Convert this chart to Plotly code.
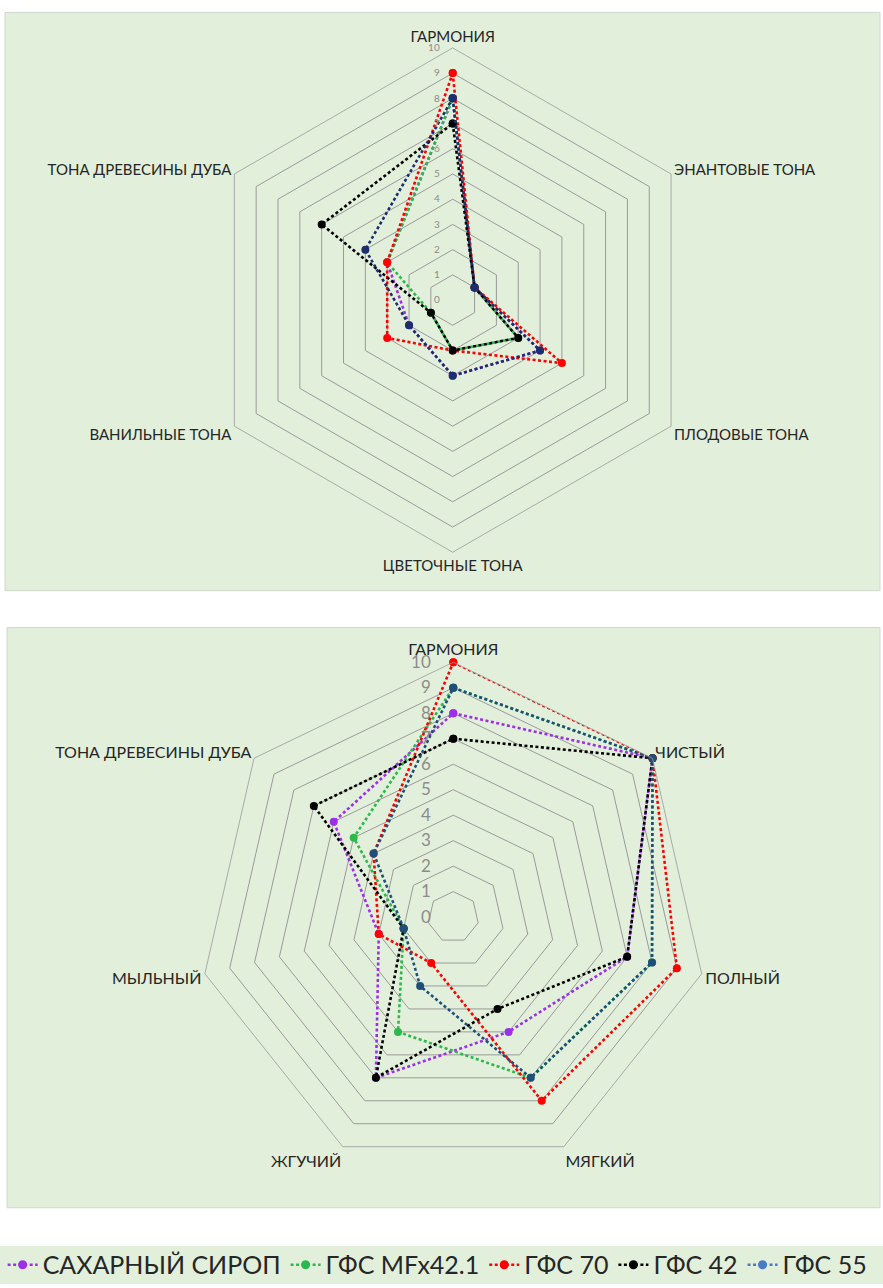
import plotly.graph_objects as go

# Aroma profile (hexagon) axes and scores
aroma_axes = ["ГАРМОНИЯ", "ЭНАНТОВЫЕ ТОНА", "ПЛОДОВЫЕ ТОНА",
              "ЦВЕТОЧНЫЕ ТОНА", "ВАНИЛЬНЫЕ ТОНА", "ТОНА ДРЕВЕСИНЫ ДУБА"]
aroma_sugar_syrup = [8, 1, 4, 3, 2, 3]
aroma_hfs_mfx421 = [8, 1, 3, 2, 1, 3]
aroma_hfs_70 = [9, 1, 5, 2, 3, 3]
aroma_hfs_42 = [7, 1, 3, 2, 1, 6]
aroma_hfs_55 = [8, 1, 4, 3, 2, 4]

# Taste profile (heptagon) axes and scores
taste_axes = ["ГАРМОНИЯ", "ЧИСТЫЙ", "ПОЛНЫЙ", "МЯГКИЙ",
              "ЖГУЧИЙ", "МЫЛЬНЫЙ", "ТОНА ДРЕВЕСИНЫ ДУБА"]
taste_sugar_syrup = [8, 10, 7, 5, 7, 3, 6]
taste_hfs_mfx421 = [9, 10, 8, 7, 5, 2, 5]
taste_hfs_70 = [10, 10, 9, 8, 2, 3, 4]
taste_hfs_42 = [7, 10, 7, 4, 7, 2, 7]
taste_hfs_55 = [9, 10, 8, 7, 3, 2, 4]

series_names = ["САХАРНЫЙ СИРОП", "ГФС MFx42.1", "ГФС 70", "ГФС 42", "ГФС 55"]
radial_ticks = list(range(0, 11))

FONT = "Lato, Open Sans, sans-serif"
PANEL = "#E2EFDA"
GRID = "#9A9A9A"

aroma_colors = ["#9B30E8", "#2DB84D", "#FF0000", "#000000", "#1C2E6E"]
taste_colors = ["#9B30E8", "#2DB84D", "#FF0000", "#000000", "#1F4E79"]
legend_colors = ["#9B30E8", "#2DB84D", "#FF0000", "#000000", "#4A7BC4"]

aroma_series = [aroma_sugar_syrup, aroma_hfs_mfx421, aroma_hfs_70, aroma_hfs_42, aroma_hfs_55]
taste_series = [taste_sugar_syrup, taste_hfs_mfx421, taste_hfs_70, taste_hfs_42, taste_hfs_55]

fig = go.Figure()


def closed(values, labels):
    return values + values[:1], labels + labels[:1]


for name, vals, col in zip(series_names, aroma_series, aroma_colors):
    r, th = closed(vals, aroma_axes)
    fig.add_trace(go.Scatterpolar(
        r=r, theta=th, subplot="polar", name=name, showlegend=False,
        mode="lines+markers",
        line=dict(color=col, width=2.6, dash="3px,2.5px"),
        marker=dict(color=col, size=8),
    ))

for name, vals, col in zip(series_names, taste_series, taste_colors):
    r, th = closed(vals, taste_axes)
    fig.add_trace(go.Scatterpolar(
        r=r, theta=th, subplot="polar2", name=name, showlegend=False,
        mode="lines+markers",
        line=dict(color=col, width=2.6, dash="3px,2.5px"),
        marker=dict(color=col, size=8),
    ))

# legend entries
for name, col in zip(series_names, legend_colors):
    fig.add_trace(go.Scatterpolar(
        r=[None], theta=[taste_axes[0]], subplot="polar2", name=name,
        mode="lines+markers",
        line=dict(color=col, width=2.6, dash="3px,2.5px"),
        marker=dict(color=col, size=9),
    ))


def polar_layout(domain_x, domain_y, tick_size, label_size, tick_pad):
    return dict(
        domain=dict(x=domain_x, y=domain_y),
        bgcolor="rgba(0,0,0,0)",
        gridshape="linear",
        radialaxis=dict(
            range=[0, 10], tickvals=radial_ticks, angle=90, tickangle=90,
            side="counterclockwise", showline=False,
            ticks="outside", ticklen=tick_pad, tickcolor="rgba(0,0,0,0)",
            gridcolor=GRID, gridwidth=0.8,
            tickfont=dict(family=FONT, size=tick_size, color="#8C8C8C"),
        ),
        angularaxis=dict(
            rotation=90, direction="clockwise", showgrid=False,
            showline=True, linecolor=GRID, linewidth=0.8, ticks="",
            tickfont=dict(family=FONT, size=label_size, color="#262626"),
        ),
    )


fig.update_layout(
    width=883, height=1288,
    margin=dict(l=0, r=0, t=0, b=0),
    paper_bgcolor="white",
    font=dict(family=FONT),
    polar=polar_layout([0.2262, 0.7992], [0.5699, 0.9627], 10, 15, 9),
    polar2=polar_layout([0.2239, 0.8028], [0.0873, 0.4842], 17, 16, 16),
    legend=dict(
        orientation="h", x=0.003, xanchor="left", y=0.0148, yanchor="middle",
        bgcolor="rgba(0,0,0,0)", font=dict(family=FONT, size=25, color="#262626"),
        itemwidth=30, tracegroupgap=0,
    ),
    shapes=[
        dict(type="rect", xref="paper", yref="paper", layer="below",
             x0=5 / 883, x1=880 / 883, y0=1 - 592.5 / 1288, y1=1 - 12.5 / 1288,
             fillcolor=PANEL, line=dict(color="#D0D8CC", width=1)),
        dict(type="rect", xref="paper", yref="paper", layer="below",
             x0=7 / 883, x1=880 / 883, y0=1 - 1211.5 / 1288, y1=1 - 629.5 / 1288,
             fillcolor=PANEL, line=dict(color="#D0D8CC", width=1)),
        dict(type="rect", xref="paper", yref="paper", layer="below",
             x0=0, x1=1, y0=0, y1=1 - 1250 / 1288,
             fillcolor=PANEL, line=dict(width=0)),
    ],
)

fig.write_html("out.html")
